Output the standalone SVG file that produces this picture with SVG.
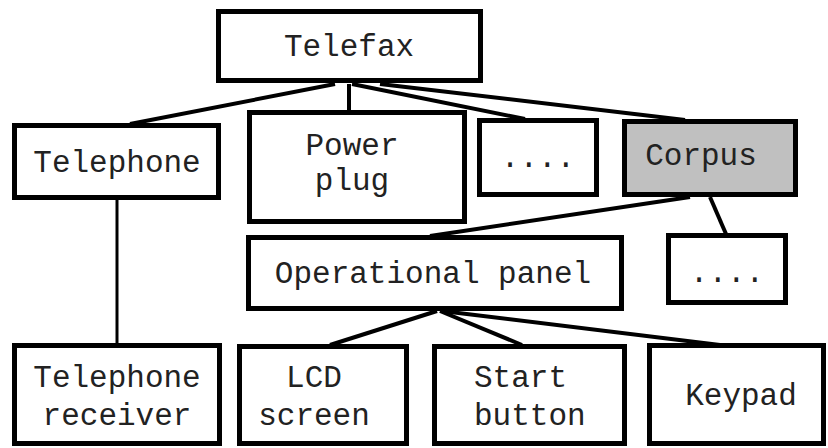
<svg xmlns="http://www.w3.org/2000/svg" width="828" height="448" viewBox="0 0 828 448">
<style>
.box{fill:#fff;stroke:#000;stroke-width:5}
.grey{fill:#c0c0c0}
.t{font-family:"Liberation Mono","Courier New",monospace;font-size:31px;fill:#222;text-anchor:middle}
.c{stroke:#000;stroke-width:4;fill:none}
</style>
<rect width="828" height="448" fill="#fff"/>
<g id="connectors">
<line class="c" x1="335" y1="84" x2="130" y2="124"/>
<line class="c" x1="349" y1="84" x2="349" y2="111"/>
<line class="c" x1="352" y1="84" x2="525" y2="119"/>
<line class="c" x1="380" y1="84" x2="685" y2="120"/>
<line class="c" x1="690" y1="197" x2="430" y2="236"/>
<line class="c" x1="710" y1="197" x2="726" y2="234"/>
<line class="c" x1="117" y1="200" x2="117" y2="344" style="stroke-width:3"/>
<line class="c" x1="437" y1="311" x2="330" y2="345"/>
<line class="c" x1="440" y1="311" x2="522" y2="345"/>
<line class="c" x1="442" y1="311" x2="720" y2="345"/>
</g>
<g id="telefax"><rect class="box" x="218.5" y="11.5" width="262" height="69"/><text class="t" x="349" y="56">Telefax</text></g>
<g id="telephone"><rect class="box" x="14.5" y="125.5" width="204" height="72"/><text class="t" x="117" y="172">Telephone</text></g>
<g id="powerplug"><rect class="box" x="249.5" y="112.5" width="215" height="109"/><text class="t" x="352" y="155">Power</text><text class="t" x="352" y="190">plug</text></g>
<g id="dots1"><rect class="box" x="479.5" y="120.5" width="117" height="74"/><text class="t" x="538" y="167">....</text></g>
<g id="corpus"><rect class="box grey" x="624.5" y="121.5" width="171" height="73"/><text class="t" x="701" y="165">Corpus</text></g>
<g id="operational-panel"><rect class="box" x="248.5" y="237.5" width="373" height="71"/><text class="t" x="433" y="283">Operational panel</text></g>
<g id="dots2"><rect class="box" x="668.5" y="235.5" width="117" height="67"/><text class="t" x="727" y="282">....</text></g>
<g id="telephone-receiver"><rect class="box" x="14.5" y="345.5" width="205" height="98"/><text class="t" x="117" y="387">Telephone</text><text class="t" x="117" y="425">receiver</text></g>
<g id="lcd-screen"><rect class="box" x="239.5" y="346.5" width="167" height="97"/><text class="t" x="314" y="387">LCD</text><text class="t" x="314" y="425">screen</text></g>
<g id="start-button"><rect class="box" x="434.5" y="346.5" width="190" height="97"/><text class="t" x="474" y="387" style="text-anchor:start">Start</text><text class="t" x="474" y="425" style="text-anchor:start">button</text></g>
<g id="keypad"><rect class="box" x="649.5" y="345.5" width="174" height="98"/><text class="t" x="741" y="405">Keypad</text></g>
</svg>
